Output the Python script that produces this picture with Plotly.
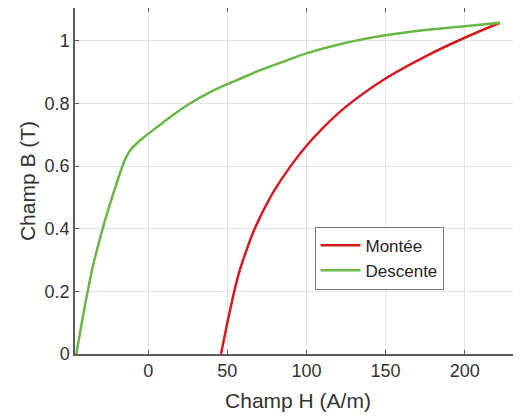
import plotly.graph_objects as go

# Montée (ascending branch)
H_montee = [46, 48, 50, 54.4, 58, 62, 66, 70, 75, 80, 90, 100, 110, 125, 150, 175, 200, 222.3]
B_montee = [0, 0.05, 0.10, 0.2, 0.27, 0.33, 0.385, 0.43, 0.48, 0.525, 0.60, 0.665, 0.72, 0.79, 0.88, 0.95, 1.01, 1.058]

# Descente (descending branch)
H_descente = [222.3, 200, 175, 150, 125, 100, 85, 70, 58, 40, 25, 10, 0, -7, -11, -14, -17, -20, -24, -28, -31.5, -35, -38.6, -42, -45.5]
B_descente = [1.058, 1.047, 1.035, 1.018, 0.994, 0.960, 0.933, 0.905, 0.879, 0.839, 0.796, 0.742, 0.703, 0.674, 0.653, 0.628, 0.59, 0.545, 0.482, 0.415, 0.35, 0.28, 0.192, 0.1, 0]

x_ticks = [0, 50, 100, 150, 200]
y_ticks = [0, 0.2, 0.4, 0.6, 0.8, 1]
y_tick_labels = ["0", "0.2", "0.4", "0.6", "0.8", "1"]

font_family = "Liberation Sans, Arial, sans-serif"
axis_color = "#5a5a5a"

fig = go.Figure()
fig.add_trace(go.Scatter(x=H_montee, y=B_montee, mode="lines", name="Montée",
                         line=dict(color="#d41c1f", width=2.5, shape="spline", smoothing=1)))
fig.add_trace(go.Scatter(x=H_descente, y=B_descente, mode="lines", name="Descente",
                         line=dict(color="#69b745", width=2.5, shape="spline", smoothing=1)))

# The page body has an 8px default margin, so the figure is sized and
# offset to fill the 521x419 window.
fig.update_layout(
    width=513, height=411,
    margin=dict(l=67, r=0, t=0, b=65),
    paper_bgcolor="white", plot_bgcolor="white",
    font=dict(family=font_family, color="#262626"),
    showlegend=True,
    legend=dict(x=0.537, y=0.368, xanchor="left", yanchor="top",
                bgcolor="white", bordercolor="#7a7a7a", borderwidth=1,
                font=dict(size=17, color="#262626"),
                tracegroupgap=0, itemwidth=40),
    xaxis=dict(range=[-46.3, 235.6], tickvals=x_ticks, ticks="inside", ticklen=4,
               tickcolor=axis_color, showline=True, linecolor=axis_color, linewidth=1.5,
               mirror="ticks", showgrid=True, gridcolor="#e3e3e3", gridwidth=1,
               zeroline=False, automargin=False, tickfont=dict(size=18, color="#333333"),
               title=dict(text="Champ H (A/m)", font=dict(size=21, color="#333333"), standoff=13)),
    yaxis=dict(range=[0, 1.105], tickvals=y_ticks, ticktext=y_tick_labels, ticks="inside", ticklen=4,
               tickcolor=axis_color, showline=True, linecolor=axis_color, linewidth=1.5,
               mirror=False, showgrid=True, gridcolor="#e3e3e3", gridwidth=1,
               zeroline=False, automargin=False, tickfont=dict(size=18, color="#333333"),
               title=dict(text="Champ B (T)", font=dict(size=21, color="#333333"), standoff=3)),
)

fig.write_html("out.html")
